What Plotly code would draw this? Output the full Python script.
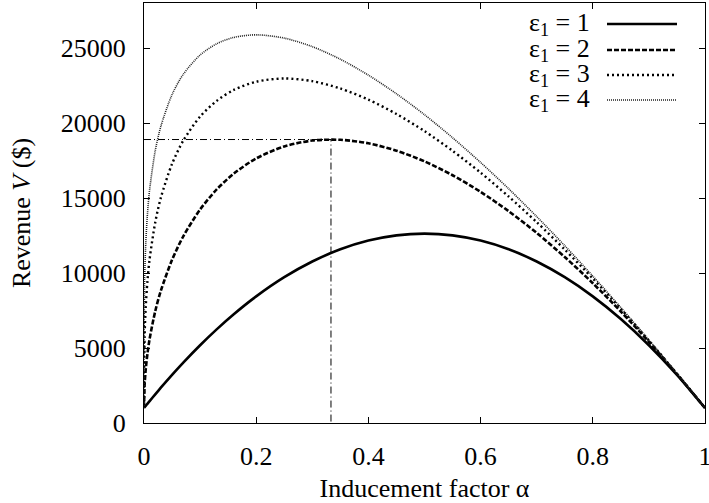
import plotly.graph_objects as go

alpha = [0, 0.001, 0.003, 0.006, 0.01, 0.02, 0.03, 0.05, 0.07, 0.1, 0.13, 0.16, 0.2,
         0.25, 0.3, 0.35, 0.4, 0.45, 0.5, 0.55, 0.6, 0.65, 0.7, 0.75, 0.8, 0.85, 0.9, 0.95, 1.0]

rev_e1 = [1000, 1046, 1139, 1277, 1460, 1911, 2353, 3209, 4027, 5185, 6259, 7250, 8440,
          9719, 10765, 11579, 12160, 12509, 12625, 12509, 12160, 11579, 10765, 9719, 8440, 6929, 5185, 3209, 1000]
rev_e2 = [1000, 2469, 3539, 4580, 5604, 7445, 8812, 10877, 12443, 14234, 15587, 16624, 17638,
          18438, 18828, 18879, 18647, 18154, 17442, 16517, 15406, 14122, 12672, 11067, 9319, 7431, 5411, 3266, 1000]
rev_e3 = [1000, 5645, 7687, 9398, 10914, 13369, 15015, 17275, 18823, 20428, 21493, 22204, 22753,
          22971, 22790, 22302, 21558, 20600, 19456, 18145, 16689, 15099, 13388, 11565, 9635, 7608, 5490, 3285, 1000]
rev_e4 = [1000, 9258, 11848, 13862, 15555, 18140, 19772, 21892, 23246, 24534, 25292, 25705, 25878,
          25659, 25092, 24250, 23190, 21948, 20553, 19019, 17368, 15615, 13760, 11820, 9793, 7696, 5529, 3296, 1000]

series_names = ["ε<sub>1</sub> = 1", "ε<sub>1</sub> = 2", "ε<sub>1</sub> = 3", "ε<sub>1</sub> = 4"]

guide_x = [0, 0.3333, 0.3333]
guide_y = [18898, 18898, 0]

x_ticks = [0, 0.2, 0.4, 0.6, 0.8, 1]
x_tick_labels = ["0", "0.2", "0.4", "0.6", "0.8", "1"]
y_ticks = [0, 5000, 10000, 15000, 20000, 25000]
y_tick_labels = ["0", "5000", "10000", "15000", "20000", "25000"]

styles = [
    dict(color="black", width=2.6, dash="solid"),
    dict(color="black", width=2.6, dash="5px,2px"),
    dict(color="black", width=2.4, dash="2px,3px"),
    dict(color="#222222", width=1.6, dash="1px,1px"),
]

FONT = "Liberation Serif"
FS = 26
fig = go.Figure()

fig.add_trace(go.Scatter(x=guide_x, y=guide_y, mode="lines",
                         line=dict(color="black", width=1, dash="7px,3px,1px,3px"),
                         showlegend=False, hoverinfo="skip"))

for ys, st in zip([rev_e1, rev_e2, rev_e3, rev_e4], styles):
    fig.add_trace(go.Scatter(x=alpha, y=ys, mode="lines", line=dict(shape="spline", smoothing=0.8, **st),
                             showlegend=False))

# manual legend (text, then line sample), top-right
L, R, T, B = 144, 705, 3, 423
def px(xp):
    return (xp - L) / (R - L)
def py(yp):
    return (B - yp) / (B - T)

row_y = [24, 50, 75, 100]
for name, st, ry in zip(series_names, styles, row_y):
    fig.add_annotation(x=px(592), y=py(ry), xref="paper", yref="paper", text=name,
                       showarrow=False, xanchor="right", yanchor="middle",
                       font=dict(family=FONT, size=FS, color="black"))
    fig.add_shape(type="line", xref="paper", yref="paper", x0=px(607), x1=px(677),
                  y0=py(ry), y1=py(ry), line=st)

axis_common = dict(showgrid=False, zeroline=False, showline=True, linecolor="black", linewidth=1,
                   mirror="ticks", ticks="inside", ticklen=6, tickcolor="black", automargin=False,
                   ticklabeloverflow="allow",
                   tickfont=dict(family=FONT, size=FS, color="black"))

fig.update_layout(
    width=709, height=503,
    margin=dict(l=L, r=709 - R, t=T, b=503 - B),
    paper_bgcolor="white", plot_bgcolor="white",
    xaxis=dict(range=[0, 1], tickvals=x_ticks, ticktext=x_tick_labels,
               title=dict(text="Inducement factor α", font=dict(family=FONT, size=FS, color="black"), standoff=8),
               ticklabelstandoff=10, **axis_common),
    yaxis=dict(range=[0, 28000], tickvals=y_ticks, ticktext=y_tick_labels,
               title=dict(text="Revenue <i>V</i> ($)", font=dict(family=FONT, size=FS, color="black"), standoff=22),
               ticklabelstandoff=12, **axis_common),
)

fig.write_html("out.html", config={"displayModeBar": False},
               post_script="document.body.style.margin='0px';document.body.style.overflow='hidden';")
